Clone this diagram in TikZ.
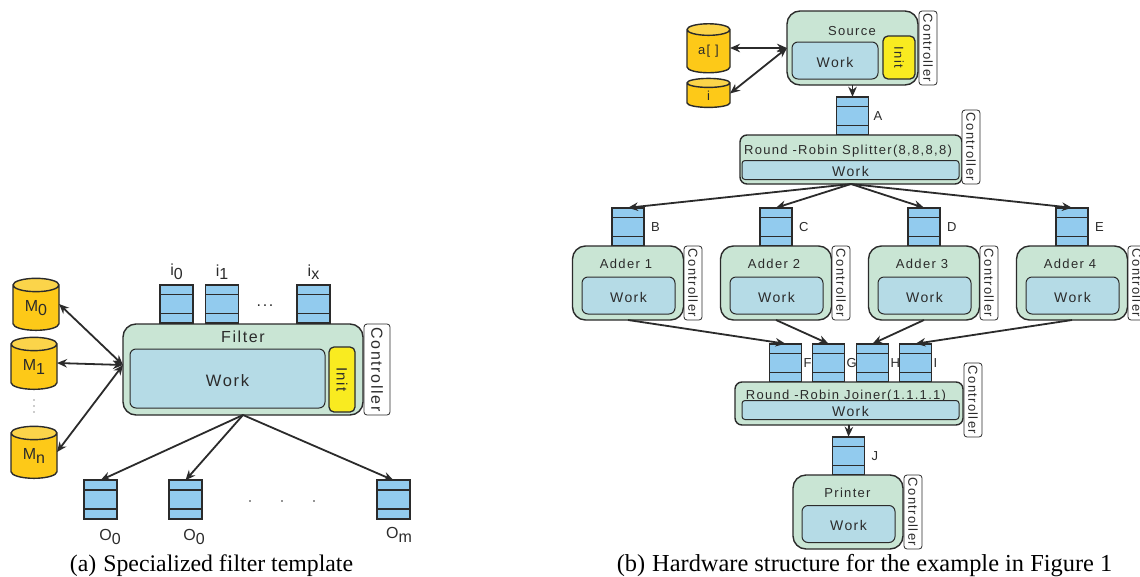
\documentclass[tikz,border=0pt]{standalone}
\usepackage{fontspec}
\setmainfont{Liberation Serif}
\newfontfamily\blockfont[LetterSpace=10]{Liberation Sans}
\usepackage{tikz}
\usetikzlibrary{arrows.meta,positioning,shapes.geometric}
\definecolor{filtergreen}{HTML}{C9E5D4}
\definecolor{workblue}{HTML}{B5DBE6}
\definecolor{inityellow}{HTML}{F9EB20}
\definecolor{memorange}{HTML}{FDC918}
\definecolor{memtop}{HTML}{FBD44A}
\definecolor{fifoblue}{HTML}{92CBEE}
\definecolor{inkgrey}{HTML}{2B2B2B}
\newcommand{\lowered}[1]{\raisebox{-3.5pt}{#1}}
\tikzset{
  blocktext/.style={text=inkgrey, font=\blockfont\fontsize{13}{13}\selectfont, inner sep=0pt, outer sep=0pt},
  bigtext/.style={blocktext, font=\blockfont\fontsize{16}{16}\selectfont},
  filterbox/.style={draw=inkgrey, fill=filtergreen, line width=1.4pt, rounded corners=13pt, inner sep=0pt, outer sep=0pt},
  workbox/.style={blocktext, font=\blockfont\fontsize{14}{14}\selectfont, text height=13pt, text depth=0pt, draw=inkgrey, fill=workblue, line width=1pt, rounded corners=6pt},
  initbox/.style={blocktext, draw=inkgrey, fill=inityellow, line width=1.3pt, rounded corners=5pt, rotate=-90},
  ctrlbox/.style={blocktext, draw=inkgrey, fill=white, line width=0.8pt, rounded corners=3pt, rotate=-90},
  fifo/.style={draw=inkgrey, fill=fifoblue, line width=1.6pt, minimum width=#1, minimum height=38.5pt, inner sep=0pt, outer sep=0pt,
    path picture={
      \foreach \frac in {0.25,0.75}{
        \draw[inkgrey, line width=1.6pt] ([yshift=\frac*38.5pt]path picture bounding box.south west) -- ([yshift=\frac*38.5pt]path picture bounding box.south east);
      }
    }},
  fifo/.default=32pt,
  mem/.style={cylinder, shape border rotate=90, shape aspect=#1, draw=inkgrey, line width=1.4pt, cylinder uses custom fill, cylinder body fill=memorange, cylinder end fill=memtop, text=inkgrey, inner sep=0pt, outer sep=0pt},
  arrow/.style={{Stealth[length=10pt,width=8.5pt]}-{Stealth[length=10pt,width=8.5pt]}, draw=inkgrey, line width=1.8pt},
  outarrow/.style={-{Stealth[length=10pt,width=8.5pt]}, draw=inkgrey, line width=1.8pt},
}
\begin{document}
\begin{tikzpicture}[x=1pt,y=-1pt]
  \clip (0,0) rectangle (1140,576);
  \fill[white] (0,0) rectangle (1140,576);

  % left: template
  \foreach \n/\x/\t in {0/176.5/i\lowered{0},1/222/i\lowered{1},x/313.5/i\lowered{x}}{
    \node[fifo=33pt] (in\n) at (\x,304) {};
    \node[bigtext] (inlab\n) at (\x,272) {\t};
  }
  \node[filterbox, minimum width=240pt, minimum height=91pt] (filter) at (243,369.5) {};
  \node[bigtext] (filterlab) at (243,337) {Filter};
  \node[workbox, font=\blockfont\fontsize{16.5}{16}\selectfont, text height=15pt, minimum width=195pt, minimum height=59pt] (filterwork) at (227.5,378.5) {Work};
  \node[initbox, font=\blockfont\fontsize{15}{15}\selectfont, minimum width=65pt, minimum height=26pt] (filterinit) at (342,379.5) {Init};
  \node[ctrlbox, font=\blockfont\fontsize{16}{16}\selectfont, minimum width=91pt, minimum height=26pt] (filterctrl) at (377,369.5) {Controller};
  \coordinate (filterport) at (123,365);

  \node[mem=0.6, bigtext, minimum width=46pt, minimum height=52pt] (m0) at (36,308) {M\lowered{0}};
  \node[mem=0.6, bigtext, minimum width=46pt, minimum height=52pt] (m1) at (34,367) {M\lowered{1}};
  \node[mem=0.6, bigtext, minimum width=46pt, minimum height=52pt] (mn) at (34,456) {M\lowered{n}};
  \foreach \y in {400,406,412}{
    \fill[inkgrey] (34,\y) circle (0.6pt);
  }
  \draw[arrow] ([yshift=4pt]m0.east) -- (filterport);
  \draw[arrow] ([yshift=4pt]m1.east) -- (filterport);
  \draw[arrow] ([yshift=4pt]mn.east) -- (filterport);

  \foreach \n/\x in {a/100.5,b/185.5,c/393.5}{
    \node[fifo=33pt] (out\n) at (\x,499.5) {};
    \draw[outarrow] (filter.south) -- (out\n.north);
  }
  \node[bigtext] (outlaba) at (110,537) {O\lowered{0}};
  \node[bigtext] (outlabb) at (194,537) {O\lowered{0}};
  \node[bigtext] (outlabc) at (399,535) {O\lowered{m}};
  \node[bigtext] (indots) at (265,306) {...};
  \foreach \x in {250,282,314}{
    \fill[inkgrey] (\x,501) circle (0.8pt);
  }

  % right: source
  \node[filterbox, minimum width=131pt, minimum height=74pt] (source) at (852.5,48) {};
  \node[blocktext] (sourcelab) at (852,31) {Source};
  \node[workbox, minimum width=86pt, minimum height=37pt] (sourcework) at (835,60.5) {Work};
  \node[initbox, minimum width=43pt, minimum height=32pt] (sourceinit) at (899,57.5) {Init};
  \node[ctrlbox, minimum width=74pt, minimum height=18pt] (sourcectrl) at (928,48) {Controller};
  \node[mem=0.56, blocktext, minimum width=43pt, minimum height=49pt] (arr) at (708.5,51.5) {a[ ]};
  \node[mem=0.5, blocktext, text width=18pt, align=center, minimum width=43pt, minimum height=29pt] (idx) at (708.5,95.5) {i};
  \coordinate (sourceport) at (787,48);
  \draw[arrow] (arr.east |- sourceport) -- (sourceport);
  \draw[arrow] ([yshift=2pt]idx.east) -- (sourceport);

  \node[fifo] (fifoA) at (852.5,116) {};
  \node[blocktext, right=5pt of fifoA] (labA) {A};
  \draw[outarrow] (source.south) -- (fifoA.north);

  % splitter
  \node[filterbox, rounded corners=7pt, minimum width=222pt, minimum height=49pt] (splitter) at (851,159.5) {};
  \node[blocktext] (splitterlab) at (848,151) {Round -Robin Splitter(8,8,8,8)};
  \node[workbox, rounded corners=3pt, minimum width=217pt, minimum height=19pt] (splitterwork) at (850.5,170) {Work};
  \node[ctrlbox, minimum width=74pt, minimum height=18pt] (splitterctrl) at (971,147) {Controller};

  % adders
  \foreach \n/\x/\f in {1/628/B,2/776/C,3/924/D,4/1072/E}{
    \node[fifo] (fifo\f) at (\x,227) {};
    \node[blocktext, right=7pt of fifo\f] (lab\f) {\f};
    \draw[outarrow] (splitter.south) -- (fifo\f.north);
    \node[filterbox, minimum width=111pt, minimum height=74pt] (adder\n) at (\x,283) {};
    \node[blocktext] (adderlab\n) at (\x-2,264) {Adder \n};
    \node[workbox, minimum width=93pt, minimum height=37pt] (adderwork\n) at (\x+0.5,295.5) {Work};
    \node[ctrlbox, minimum width=74pt, minimum height=18pt] (adderctrl\n) at (\x+65,283) {Controller};
  }

  % joiner
  \foreach \f/\x in {F/785.5,G/828.5,H/872.5,I/915.5}{
    \node[fifo] (fifo\f) at (\x,363) {};
    \node[blocktext, right=2pt of fifo\f] (lab\f) {\f};
  }
  \draw[outarrow] (adder1.south) -- (fifoF.north);
  \draw[outarrow] (adder2.south) -- (fifoG.north);
  \draw[outarrow] (adder3.south) -- (fifoH.north);
  \draw[outarrow] (adder4.south) -- (fifoI.north);
  \node[filterbox, rounded corners=7pt, minimum width=228pt, minimum height=43pt] (joiner) at (849,403.5) {};
  \node[blocktext] (joinerlab) at (846,396) {Round -Robin Joiner(1.1.1.1)};
  \node[workbox, rounded corners=3pt, minimum width=217pt, minimum height=19pt] (joinerwork) at (850.5,410) {Work};
  \node[ctrlbox, minimum width=74pt, minimum height=18pt] (joinerctrl) at (973,400) {Controller};

  % printer
  \node[fifo] (fifoJ) at (848.5,456) {};
  \node[blocktext, right=7pt of fifoJ] (labJ) {J};
  \draw[outarrow] (joiner.south) -- (fifoJ.north);
  \node[filterbox, minimum width=110pt, minimum height=74pt] (printer) at (848,512) {};
  \node[blocktext] (printerlab) at (847.5,493) {Printer};
  \node[workbox, minimum width=93pt, minimum height=37pt] (printerwork) at (848.5,524) {Work};
  \node[ctrlbox, minimum width=74pt, minimum height=18pt] (printerctrl) at (913,512) {Controller};

  % captions
  \node[font=\fontsize{23.8}{24}\selectfont, inner sep=0pt, text=black] (capa) at (211.5,566) {(a)\hspace{7pt}Specialized filter template};
  \node[font=\fontsize{24.4}{24}\selectfont, inner sep=0pt, text=black] (capb) at (864.5,566) {(b)\hspace{7pt}Hardware structure for the example in Figure 1};
\end{tikzpicture}
\end{document}
